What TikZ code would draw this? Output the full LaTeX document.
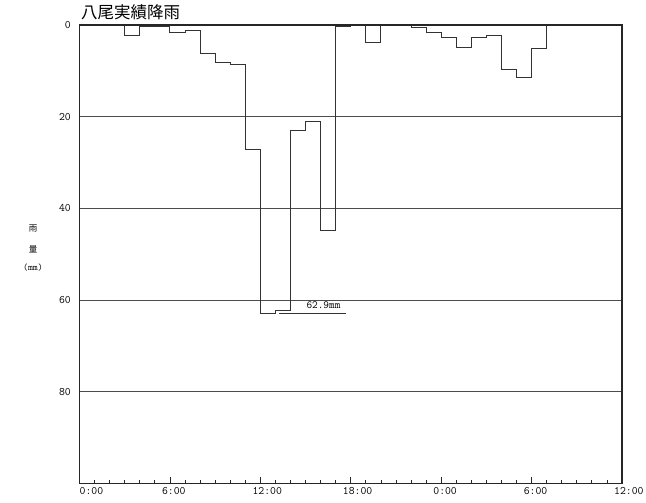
\documentclass[tikz,border=0pt]{standalone}
\usepackage{fontspec}
\newfontfamily\cjk{Noto Sans CJK JP}
\begin{document}
\begin{tikzpicture}[x=1pt,y=-1pt,
  frame/.style={draw=black!85,line width=1.3pt},
  grid/.style={draw=black!70,line width=0.8pt},
  series/.style={draw=black!80,line width=0.9pt,line join=miter},
  ticklab/.style={font=\fontsize{11.4}{12}\ttfamily,inner sep=0pt},
  ylab/.style={font=\fontsize{11.4}{12}\ttfamily,inner sep=0pt,anchor=east},
  sidelab/.style={font=\fontsize{8.5}{9}\selectfont,inner sep=0pt}]
\useasboundingbox (0,0) rectangle (646,503);
\node[font=\fontsize{16.5}{18}\cjk,anchor=west,inner sep=0pt] (title) at (81,12) {八尾実績降雨};
\node[sidelab] (s1) at (33,229) {\cjk 雨};
\node[sidelab] (s2) at (33,249) {\cjk 量};
\node[sidelab] (s3) at (33,268) {\fontsize{9.5}{10}\ttfamily (mm)};
\begin{scope}[shift={(79.5,25)},x=15.07pt,y=-4.585pt]
  \foreach \v in {20,40,60,80} \draw[grid] (0,\v) -- (36,\v);
  \draw[series] (0,0)
    \foreach \h/\v in {0/0,1/0,2/0,3/2.2,4/0.3,5/0.3,6/1.6,7/1.2,8/6.2,9/8.2,10/8.7,11/27.1,12/62.9,13/62.3,14/23.1,15/21.1,16/44.7,17/0.4,18/0.2,19/3.8,20/0.2,21/0,22/0.6,23/1.6,24/2.7,25/4.9,26/2.7,27/2.3,28/9.7,29/11.5,30/5.2,31/0,32/0,33/0,34/0,35/0}
    { -- (\h,\v) -- (\h+1,\v) };
  \foreach \h in {1,...,35} \draw[black!85,line width=0.8pt] (\h,100) -- ++(0,-0.7);
  \foreach \h in {6,12,18,24,30} \draw[black!85,line width=0.8pt] (\h,100) -- ++(0,-1.4);
  \draw[frame] (0,0) rectangle (36,100);
  \node[ticklab,anchor=north west] (t1) at (0,100.9) {0:00};
  \foreach \h/\t [count=\i from 2] in {6/6:00,12/12:00,18/18:00,24/0:00,30/6:00,36/12:00}
    \node[ticklab,anchor=north west] (t\i) at ([xshift=-8pt]\h,100.9) {\t};
  \foreach \v [count=\i] in {0,20,40,60,80}
    \node[ylab] (y\i) at ([xshift=-8.5pt]0,\v) {\v};
  \draw[series] (13.24,62.9) -- (17.68,62.9);
  \node[font=\fontsize{11}{12}\ttfamily,inner sep=0pt] (max) at (16.19,61.2) {62.9mm};
\end{scope}
\end{tikzpicture}
\end{document}
